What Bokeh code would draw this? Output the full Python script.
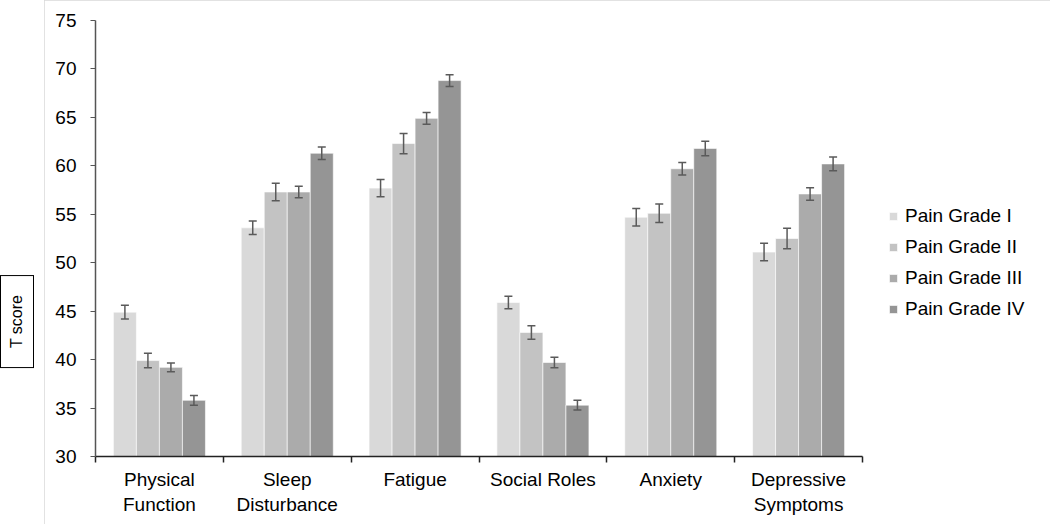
import numpy as np
from bokeh.plotting import figure
from bokeh.layouts import row
from bokeh.models import (Range1d, FixedTicker, Legend, LegendItem, Div,
                          ColumnDataSource, Whisker, TeeHead)
from bokeh.embed import file_html
from bokeh.resources import INLINE

categories = ["Physical\nFunction", "Sleep\nDisturbance", "Fatigue",
              "Social Roles", "Anxiety", "Depressive\nSymptoms"]
series = ["Pain Grade I", "Pain Grade II", "Pain Grade III", "Pain Grade IV"]
grade_i = [44.9, 53.6, 57.7, 45.9, 54.7, 51.1]
grade_ii = [39.9, 57.3, 62.3, 42.8, 55.1, 52.5]
grade_iii = [39.2, 57.3, 64.9, 39.7, 59.7, 57.1]
grade_iv = [35.8, 61.3, 68.8, 35.3, 61.8, 60.2]
err_i = [0.7, 0.7, 0.9, 0.65, 0.9, 0.9]
err_ii = [0.75, 0.9, 1.05, 0.7, 0.95, 1.05]
err_iii = [0.45, 0.6, 0.6, 0.55, 0.65, 0.65]
err_iv = [0.5, 0.65, 0.6, 0.5, 0.75, 0.7]
y_ticks = [30, 35, 40, 45, 50, 55, 60, 65, 70, 75]
y_title = "T score"

values = [grade_i, grade_ii, grade_iii, grade_iv]
errors = [err_i, err_ii, err_iii, err_iv]
colors = ["#D9D9D9", "#C3C3C3", "#ABABAB", "#959595"]
offsets = [-0.27, -0.09, 0.09, 0.27]
bar_w = 0.18
FONT = "Liberation Sans"

H = 524
p = figure(frame_width=767, frame_height=436, output_backend="svg", toolbar_location=None,
           x_range=Range1d(0, len(categories)), y_range=Range1d(y_ticks[0], y_ticks[-1]),
           min_border_left=51, min_border_right=186, min_border_top=20,
           min_border_bottom=68)
p.outline_line_color = None
p.grid.grid_line_color = None
p.background_fill_color = "white"
p.border_fill_color = "white"
p.styles = {"outline": "2px solid #D9D9D9", "outline-offset": "-2px"}

centers = np.arange(len(categories)) + 0.5
items = []
for name, vals, errs, col, off in zip(series, values, errors, colors, offsets):
    v = np.array(vals)
    e = np.array(errs)
    src = ColumnDataSource(dict(x=centers + off, top=v, lo=v - e, hi=v + e))
    r = p.vbar(x="x", top="top", bottom=y_ticks[0], width=bar_w, source=src,
               fill_color=col, line_color="white", line_alpha=0.6, line_width=1)
    items.append(LegendItem(label=name, renderers=[r]))
    wk = Whisker(base="x", upper="hi", lower="lo", source=src, level="overlay",
                 line_color="#5A5A5A", line_width=1.5,
                 upper_head=TeeHead(size=8, line_color="#5A5A5A", line_width=1.5),
                 lower_head=TeeHead(size=8, line_color="#5A5A5A", line_width=1.5))
    p.add_layout(wk)

# y axis
p.yaxis.ticker = FixedTicker(ticks=y_ticks, minor_ticks=[])
p.yaxis.major_tick_out = 5
p.yaxis.major_tick_in = 0
p.yaxis.major_label_standoff = 14
p.yaxis.axis_line_color = "#555555"
p.yaxis.axis_line_width = 1.5
p.yaxis.major_tick_line_color = "#555555"
p.yaxis.major_label_text_font = FONT
p.yaxis.major_label_text_font_size = "19px"
p.yaxis.major_label_text_color = "black"

# x axis: labels at centers, ticks at boundaries
p.xaxis.ticker = FixedTicker(ticks=list(centers),
                             minor_ticks=list(range(len(categories) + 1)))
p.xaxis.major_label_overrides = {float(c): lab for c, lab in zip(centers, categories)}
p.xaxis.major_tick_out = 0
p.xaxis.major_tick_in = 0
p.xaxis.minor_tick_out = 6
p.xaxis.minor_tick_in = 0
p.xaxis.minor_tick_line_color = "#222222"
p.xaxis.minor_tick_line_width = 1.5
p.xaxis.axis_line_color = "#222222"
p.xaxis.axis_line_width = 1.5
p.xaxis.major_label_standoff = 6
p.xaxis.major_label_text_font = FONT
p.xaxis.major_label_text_font_size = "19px"
p.xaxis.major_label_text_color = "black"
p.xaxis.major_label_text_line_height = 1.2

legend = Legend(items=items, location=(26, 136), orientation="vertical",
                glyph_width=10, glyph_height=10, label_height=22, spacing=9,
                label_standoff=7, padding=0, margin=0,
                background_fill_alpha=0, border_line_color=None,
                label_text_font=FONT, label_text_font_size="19px",
                label_text_color="black")
p.add_layout(legend, "right")

box_html = (
    '<div style="display:inline-block; margin-top:275px; border:1.5px solid black;'
    ' writing-mode:vertical-rl; transform:rotate(180deg); padding:19px 8px;'
    " font-family:'Liberation Sans'; font-size:16px; line-height:1; color:black;"
    ' background:white;">' + y_title + '</div>'
)
div = Div(text=box_html, width=44, height=H, styles={"margin": "0", "padding": "0"})

layout = row(div, p, spacing=0)
open("out.html", "w").write(file_html(layout, INLINE))
